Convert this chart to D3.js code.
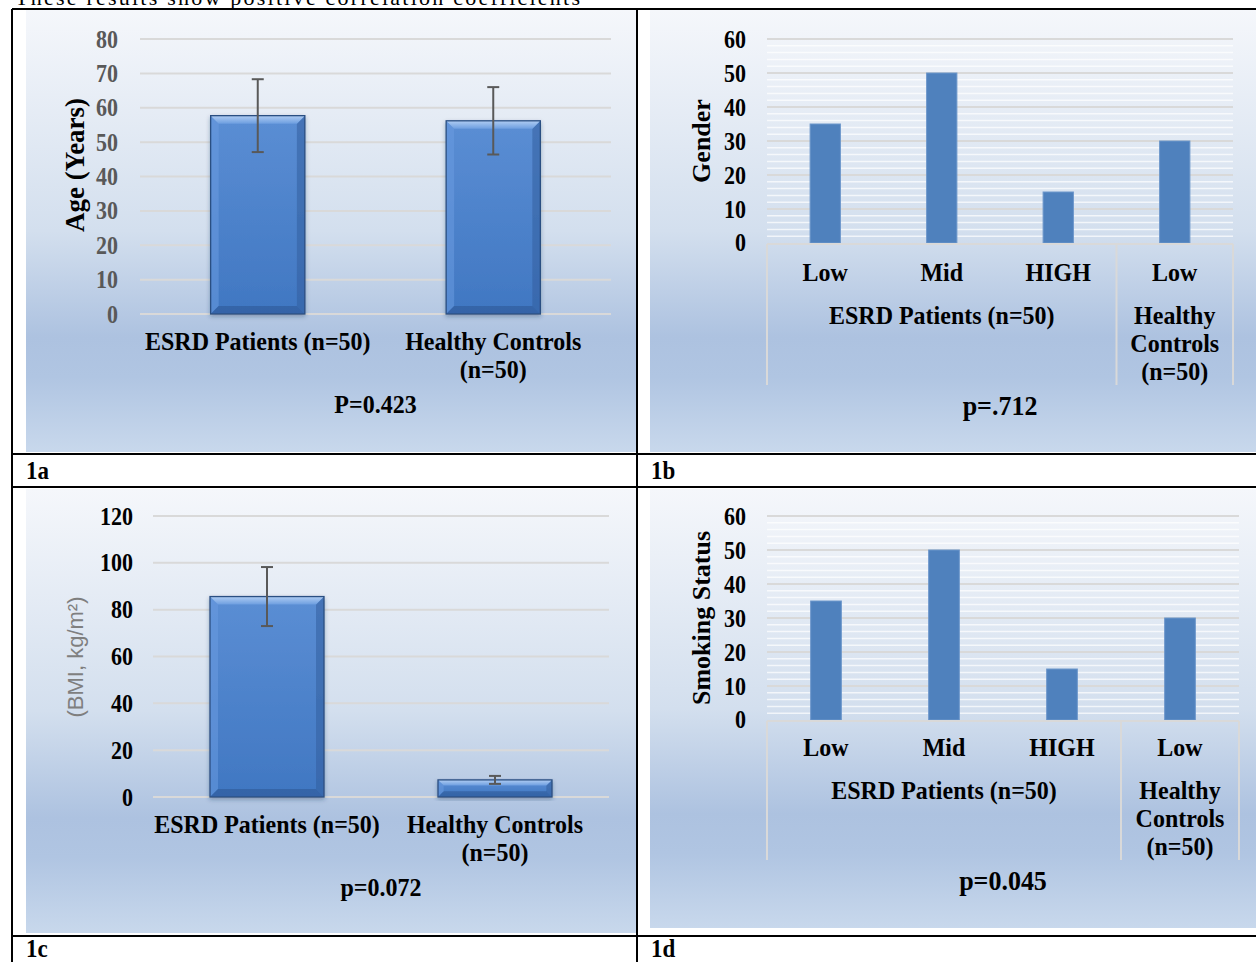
<!DOCTYPE html>
<html>
<head>
<meta charset="utf-8">
<script src="https://cdn.jsdelivr.net/npm/d3@7"></script>
<style>
  html, body { margin: 0; padding: 0; background: #fff; }
  svg { display: block; }
  text { font-family: 'Liberation Serif', 'Times New Roman', serif; }
</style>
</head>
<body>
<svg id="fig" width="1256" height="962"></svg>
<script>
// --- data ---
const groupLines = [['ESRD Patients (n=50)'], ['Healthy Controls', '(n=50)']];
const ageMean = [57.7, 56.2];
const ageSd = [10.6, 9.8];
const ageTicks = [0, 10, 20, 30, 40, 50, 60, 70, 80];
const bmiMean = [85.6, 7.3];
const bmiSd = [12.6, 1.7];
const bmiTicks = [0, 20, 40, 60, 80, 100, 120];
const levels = ['Low', 'Mid', 'HIGH', 'Low'];
const levelGroups = [['ESRD Patients (n=50)'], ['Healthy', 'Controls', '(n=50)']];
const genderValues = [35, 50, 15, 30];
const smokingValues = [35, 50, 15, 30];
const countTicks = [0, 10, 20, 30, 40, 50, 60];
const panelLabels = ['1a', '1b', '1c', '1d'];
const pValues = ['P=0.423', 'p=.712', 'p=0.072', 'p=0.045'];

const svg = d3.select('#fig');
const defs = svg.append('defs');
const SY = 1.08; // text in the source image is a little taller than Times

const gradient = (id, stops, x2 = 0, y2 = 1) => {
  const g = defs.append('linearGradient').attr('id', id)
    .attr('x1', 0).attr('y1', 0).attr('x2', x2).attr('y2', y2);
  stops.forEach(([o, c]) => g.append('stop').attr('offset', o).attr('stop-color', c));
};
gradient('panelBg', [[0, '#f5f7fb'], [0.5, '#d3dfee'], [0.74, '#adc2e0'], [0.83, '#b0c5e2'], [1, '#c8d8ec']]);
gradient('barFace', [[0, '#5b8ed4'], [1, '#4077c2']]);
gradient('barTop', [[0, '#b0cdf3'], [1, '#6d9ee0']]);

const shadow = defs.append('filter').attr('id', 'barShadow')
  .attr('x', '-20%').attr('y', '-10%').attr('width', '140%').attr('height', '130%');
shadow.append('feDropShadow').attr('dx', 0).attr('dy', 2).attr('stdDeviation', 2)
  .attr('flood-color', '#1d3557').attr('flood-opacity', 0.35);

// caption line cut at the top of the page
svg.append('text')
  .attr('x', 15).attr('y', 5)
  .attr('textLength', 565).attr('lengthAdjust', 'spacing')
  .style('font-size', '22px')
  .text('These results show positive correlation coefficients');

// panel backgrounds
const panels = [
  { x: 26, y: 10, w: 610, h: 442 },
  { x: 650, y: 10, w: 606, h: 442 },
  { x: 26, y: 489, w: 610, h: 444 },
  { x: 650, y: 489, w: 606, h: 439 }
];
svg.selectAll('rect.panel').data(panels).join('rect')
  .attr('class', 'panel')
  .attr('x', d => d.x).attr('y', d => d.y)
  .attr('width', d => d.w).attr('height', d => d.h)
  .attr('fill', 'url(#panelBg)');

// table rules
const table = svg.append('g').attr('stroke', '#000').attr('stroke-width', 2);
[[12, 9, 1256, 9], [12, 454, 1256, 454], [12, 487, 1256, 487], [12, 936, 1256, 936],
 [12, 9, 12, 962], [637, 9, 637, 962]].forEach(([a, b, c, d]) =>
  table.append('line').attr('x1', a).attr('y1', b).attr('x2', c).attr('y2', d));

svg.selectAll('text.panelLabel').data(panelLabels).join('text')
  .attr('class', 'panelLabel')
  .attr('transform', (d, i) => `translate(${i % 2 ? 651 : 26},${i < 2 ? 479 : 957}) scale(1,${SY})`)
  .style('font-size', '23px').style('font-weight', 'bold')
  .text(d => d);

const boldText = (g, x, y, str, size, anchor = 'middle') =>
  g.append('text')
    .attr('transform', `translate(${x},${y}) scale(1,${SY})`)
    .attr('text-anchor', anchor)
    .style('font-size', size + 'px').style('font-weight', 'bold').style('fill', '#000')
    .text(str);

const yTitle = (g, cx, cy, str, style) => {
  const t = g.append('text')
    .attr('transform', `translate(${cx},${cy}) rotate(-90)`)
    .attr('text-anchor', 'middle').attr('dy', '0.35em')
    .text(str);
  Object.entries(style).forEach(([k, v]) => t.style(k, v));
  return t;
};

const yAxis = (g, y, ticks, x0, x1, pad, color, size) => {
  g.append('g').selectAll('line').data(ticks).join('line')
    .attr('x1', x0).attr('x2', x1)
    .attr('y1', d => y(d)).attr('y2', d => y(d))
    .attr('stroke', '#d9d9d9').attr('stroke-width', 2);
  const ax = g.append('g').attr('transform', `translate(${x0},0)`)
    .call(d3.axisLeft(y).tickValues(ticks).tickSize(0).tickPadding(pad));
  ax.select('.domain').remove();
  ax.selectAll('text')
    .attr('transform', 'scale(1,1.15)')
    .style('font-family', "'Liberation Serif', 'Times New Roman', serif")
    .style('font-size', size + 'px').style('font-weight', 'bold')
    .style('fill', color);
};

const bevelBar = (g, x, y, w, h, b) => {
  b = Math.min(b, h / 3);
  const bar = g.append('g').attr('filter', 'url(#barShadow)');
  bar.append('rect').attr('x', x).attr('y', y).attr('width', w).attr('height', h)
    .attr('fill', 'url(#barFace)');
  const poly = (pts, fill, op) => bar.append('polygon')
    .attr('points', pts.map(p => p.join(',')).join(' '))
    .attr('fill', fill).attr('opacity', op);
  poly([[x, y], [x + b, y + b], [x + b, y + h - b], [x, y + h]], '#6a9be0', 0.55);
  poly([[x + w, y], [x + w - b, y + b], [x + w - b, y + h - b], [x + w, y + h]], '#335f9f', 0.55);
  poly([[x, y + h], [x + b, y + h - b], [x + w - b, y + h - b], [x + w, y + h]], '#2d5996', 0.6);
  poly([[x, y], [x + w, y], [x + w - b, y + b], [x + b, y + b]], 'url(#barTop)', 1);
  bar.append('rect').attr('x', x).attr('y', y).attr('width', w).attr('height', h)
    .attr('fill', 'none').attr('stroke', '#2b4f82').attr('stroke-width', 1.3);
};

const meanChart = cfg => {
  const g = svg.append('g');
  const y = d3.scaleLinear().domain([0, d3.max(cfg.ticks)]).range([cfg.yBottom, cfg.yTop]);
  const x = d3.scaleBand().domain(d3.range(cfg.mean.length))
    .range([cfg.x0, cfg.x1]).paddingInner(cfg.pad).paddingOuter(cfg.pad / 2);
  yAxis(g, y, cfg.ticks, cfg.x0, cfg.x1, cfg.tickPad, cfg.tickColor, 22);

  cfg.mean.forEach((m, i) => {
    bevelBar(g, x(i), y(m), x.bandwidth(), y(0) - y(m), cfg.bevel);
  });

  // error bars
  const eb = g.append('g').attr('stroke', '#595959').attr('stroke-width', 2);
  cfg.mean.forEach((m, i) => {
    const cx = x(i) + x.bandwidth() / 2;
    const hi = y(m + cfg.sd[i]), lo = y(m - cfg.sd[i]);
    eb.append('line').attr('x1', cx).attr('x2', cx).attr('y1', hi).attr('y2', lo);
    eb.append('line').attr('x1', cx - 6).attr('x2', cx + 6).attr('y1', hi).attr('y2', hi);
    eb.append('line').attr('x1', cx - 6).attr('x2', cx + 6).attr('y1', lo).attr('y2', lo);
  });

  groupLines.forEach((lines, i) => {
    lines.forEach((s, j) =>
      boldText(g, x(i) + x.bandwidth() / 2, cfg.yBottom + 36 + j * 28, s, 24));
  });
  boldText(g, (cfg.x0 + cfg.x1) / 2, cfg.yBottom + 99, cfg.p, 24);
  yTitle(g, cfg.titleX, cfg.titleY, cfg.title, cfg.titleStyle);
};

const levelChart = cfg => {
  const g = svg.append('g');
  const y = d3.scaleLinear().domain([0, d3.max(countTicks)]).range([cfg.yBottom, cfg.yTop]);
  const x = d3.scaleBand().domain(d3.range(levels.length))
    .range([cfg.x0, cfg.x1]).paddingInner(0.74).paddingOuter(0.37);

  // minor grid every 2
  const minor = d3.range(2, 60, 2).filter(v => v % 10);
  g.append('g').selectAll('line').data(minor).join('line')
    .attr('x1', cfg.x0).attr('x2', cfg.x1)
    .attr('y1', d => y(d)).attr('y2', d => y(d))
    .attr('stroke', '#ffffff').attr('stroke-opacity', 0.7).attr('stroke-width', 1.5);
  yAxis(g, y, countTicks.filter(v => v > 0), cfg.x0, cfg.x1, 21, '#000', 22);
  g.append('text')
    .attr('transform', `translate(${cfg.x0 - 21},${y(0)}) scale(1,1.15)`)
    .attr('dy', '0.32em').attr('text-anchor', 'end')
    .style('font-size', '22px').style('font-weight', 'bold').text('0');

  g.append('g').selectAll('rect').data(cfg.values).join('rect')
    .attr('x', (d, i) => x(i)).attr('width', x.bandwidth())
    .attr('y', d => y(d)).attr('height', d => y(0) - y(d))
    .attr('fill', '#4f81bd').attr('stroke', '#6d97cb').attr('stroke-width', 1);

  // multi-level category axis
  const split = x(3) - x.step() * 0.37;
  const ax = g.append('g').attr('stroke', '#d9d9d9').attr('stroke-width', 2);
  ax.append('line').attr('x1', cfg.x0).attr('x2', cfg.x1).attr('y1', y(0) + 1).attr('y2', y(0) + 1);
  [cfg.x0, split, cfg.x1].forEach(v =>
    ax.append('line').attr('x1', v).attr('x2', v).attr('y1', y(0) + 1).attr('y2', y(0) + cfg.axisDepth));

  levels.forEach((s, i) => boldText(g, x(i) + x.bandwidth() / 2, y(0) + cfg.levelOff, s, 24));
  const centers = [(cfg.x0 + split) / 2, (split + cfg.x1) / 2];
  levelGroups.forEach((lines, i) =>
    lines.forEach((s, j) => boldText(g, centers[i], y(0) + cfg.groupOff + j * cfg.lineH, s, 24)));
  boldText(g, (cfg.x0 + cfg.x1) / 2, y(0) + cfg.pOff, cfg.p, 26);
  yTitle(g, cfg.titleX, cfg.titleY, cfg.title,
    { 'font-size': '26px', 'font-weight': 'bold', fill: '#000' });
};

meanChart({
  x0: 140, x1: 611, yTop: 39, yBottom: 314, ticks: ageTicks, mean: ageMean, sd: ageSd,
  pad: 0.6, bevel: 8, tickPad: 22, tickColor: '#595959', p: pValues[0],
  title: 'Age (Years)', titleX: 75, titleY: 165,
  titleStyle: { 'font-size': '27px', 'font-weight': 'bold', fill: '#000' }
});

levelChart({
  x0: 767, x1: 1233, yTop: 39, yBottom: 243, values: genderValues, p: pValues[1],
  axisDepth: 142, levelOff: 38, groupOff: 81, lineH: 28, pOff: 172,
  title: 'Gender', titleX: 701, titleY: 141
});

meanChart({
  x0: 153, x1: 609, yTop: 516, yBottom: 797, ticks: bmiTicks, mean: bmiMean, sd: bmiSd,
  pad: 0.5, bevel: 8, tickPad: 20, tickColor: '#000', p: pValues[2],
  title: '(BMI, kg/m²)', titleX: 75, titleY: 657,
  titleStyle: { 'font-family': "'Liberation Sans', Arial, sans-serif", 'font-size': '22px', fill: '#7f7f7f' }
});

levelChart({
  x0: 767, x1: 1239, yTop: 516, yBottom: 720, values: smokingValues, p: pValues[3],
  axisDepth: 140, levelOff: 36, groupOff: 79, lineH: 28, pOff: 170,
  title: 'Smoking Status', titleX: 701, titleY: 618
});
</script>
</body>
</html>
